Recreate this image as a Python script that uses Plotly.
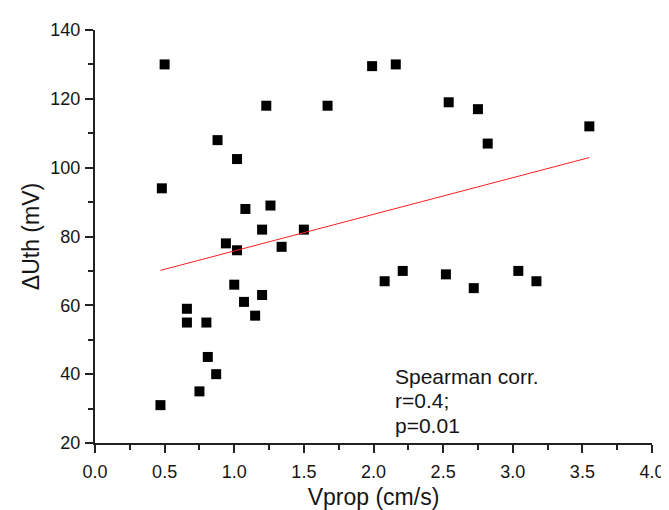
import numpy as np
import plotly.graph_objects as go

# Data
vprop = [0.50, 1.99, 2.16, 1.23, 1.67, 2.54, 2.75, 3.55, 0.88, 2.82,
         1.02, 0.48, 1.08, 1.26, 1.20, 1.50, 0.94, 1.02, 1.34, 1.00,
         1.20, 1.07, 1.15, 0.66, 0.66, 0.80, 0.81, 0.87, 0.75, 0.47,
         2.08, 2.21, 2.52, 2.72, 3.04, 3.17]
duth = [130, 129.5, 130, 118, 118, 119, 117, 112, 108, 107,
        102.5, 94, 88, 89, 82, 82, 78, 76, 77, 66,
        63, 61, 57, 59, 55, 55, 45, 40, 35, 31,
        67, 70, 69, 65, 70, 67]

x_ticks = [0.0, 0.5, 1.0, 1.5, 2.0, 2.5, 3.0, 3.5, 4.0]
y_ticks = [20, 40, 60, 80, 100, 120, 140]
annotation_lines = ["Spearman corr.", "r=0.4;", "p=0.01"]

# Linear fit drawn over the data range
slope, intercept = np.polyfit(vprop, duth, 1)
fit_x = np.array([min(vprop), max(vprop)])
fit_y = slope * fit_x + intercept

FONT = "Liberation Sans, Arial, sans-serif"
AX = "#222222"
TXT = "#151515"

fig = go.Figure()
fig.add_trace(go.Scatter(
    x=vprop, y=duth, mode="markers",
    marker=dict(symbol="square", size=10, color="black", line=dict(width=0)),
    showlegend=False, hoverinfo="skip"))
fig.add_trace(go.Scatter(
    x=fit_x, y=fit_y, mode="lines",
    line=dict(color="#ff2020", width=1),
    showlegend=False, hoverinfo="skip"))

for i, line in enumerate(annotation_lines):
    fig.add_annotation(
        x=2.143, y=39.4, xref="x", yref="y", xanchor="left", yanchor="middle",
        yshift=-24.5 * i, text=line, showarrow=False, align="left",
        font=dict(family=FONT, size=21, color=TXT))

axis_common = dict(
    showgrid=False, zeroline=False, showline=True, linecolor=AX, linewidth=2,
    ticks="outside", ticklen=8, tickwidth=1.5, tickcolor=AX,
    tickfont=dict(family=FONT, size=18, color=TXT),
    minor=dict(ticks="outside", ticklen=5, tickwidth=1.5, tickcolor=AX),
)

fig.update_xaxes(
    range=[0, 4], tickvals=x_ticks, ticktext=[f"{v:.1f}" for v in x_ticks],
    minor_dtick=0.25, minor_tick0=0, ticklabelstandoff=3,
    title=dict(text="Vprop (cm/s)", font=dict(family=FONT, size=23, color=TXT), standoff=8),
    **axis_common)
fig.update_yaxes(
    range=[20, 140], tickvals=y_ticks, ticktext=[str(v) for v in y_ticks],
    minor_dtick=10, minor_tick0=20, ticklabelstandoff=1,
    title=dict(text="ΔUth (mV)", font=dict(family=FONT, size=23, color=TXT), standoff=4),
    **axis_common)

fig.update_layout(
    width=669, height=510,
    margin=dict(l=87, r=23, t=19, b=69),
    plot_bgcolor="white", paper_bgcolor="white",
    showlegend=False,
)

fig.write_html("out.html")
